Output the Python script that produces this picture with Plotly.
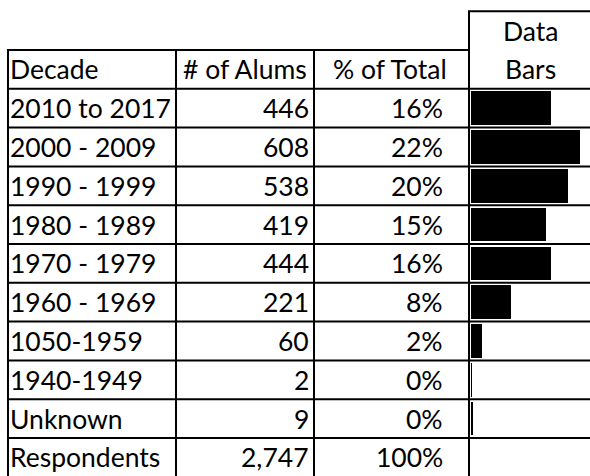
import plotly.graph_objects as go

# ---- data ----
decades = ["2010 to 2017", "2000 - 2009", "1990 - 1999", "1980 - 1989", "1970 - 1979",
           "1960 - 1969", "1050-1959", "1940-1949", "Unknown"]
alums = [446, 608, 538, 419, 444, 221, 60, 2, 9]
pct_total = [16, 22, 20, 15, 16, 8, 2, 0, 0]
total_label = "Respondents"
total_alums = 2747
total_pct = 100
headers = ["Decade", "# of Alums", "% of Total"]
bars_header = ["Data", "Bars"]

# ---- layout geometry (pixels / row units) ----
W, H = 590, 476
ROW_TOP = 50.0     # px of header row top
ROW_H = 38.8       # px per row
col_edges = [8, 176, 314, 469]
bars_x0 = 470.5
px_per_unit = 0.18
FONT = "Lato"
FS = 26.5

def b_of_px(p):
    return (p - ROW_TOP) / ROW_H

y_top = b_of_px(0)
y_bot = b_of_px(H)
n_rows = len(decades) + 1  # data rows + respondents
last_b = n_rows + 1

fig = go.Figure()

# data bars
row_centers = [i + 1.5 for i in range(len(decades))]
fig.add_trace(go.Bar(
    x=alums, y=row_centers, orientation="h", width=0.87,
    marker=dict(color="#000000", line=dict(width=0)),
    xaxis="x2", yaxis="y", hoverinfo="skip", showlegend=False,
))

shapes = []
lw = 2
lc = "#000000"
# horizontal lines
shapes.append(dict(type="line", xref="x", yref="y", x0=col_edges[0] - 1, x1=col_edges[3], y0=0, y1=0,
                   line=dict(color=lc, width=lw)))
shapes.append(dict(type="line", xref="x", yref="y", x0=col_edges[3] - 1, x1=W, y0=-1, y1=-1,
                   line=dict(color=lc, width=lw)))
for b in range(1, n_rows + 1):
    shapes.append(dict(type="line", xref="x", yref="y", x0=col_edges[0] - 1, x1=W, y0=b, y1=b,
                       line=dict(color=lc, width=lw)))
# vertical lines
for xe in col_edges[:3]:
    shapes.append(dict(type="line", xref="x", yref="y", x0=xe, x1=xe, y0=0, y1=last_b,
                       line=dict(color=lc, width=lw)))
shapes.append(dict(type="line", xref="x", yref="y", x0=col_edges[3], x1=col_edges[3], y0=-1, y1=last_b,
                   line=dict(color=lc, width=lw)))

ann = []
font = dict(family=FONT, size=FS, color="#000000")

def add_text(txt, x, b, anchor):
    ann.append(dict(text=txt, x=x, y=b, xref="x", yref="y", xanchor=anchor, yanchor="middle",
                    showarrow=False, font=font, yshift=0))

# headers
add_text(headers[0], 8, 0.5, "left")
add_text(headers[1], 245, 0.5, "center")
add_text(headers[2], 390, 0.5, "center")
add_text(bars_header[0], 530, -0.5, "center")
add_text(bars_header[1], 530, 0.5, "center")

# rows
for i, (d, a, p) in enumerate(zip(decades, alums, pct_total)):
    b = i + 1.5
    add_text(d, 8, b, "left")
    add_text(f"{a:,}", 311, b, "right")
    add_text(f"{p}%", 445, b, "right")
b = len(decades) + 1.5
add_text(total_label, 8, b, "left")
add_text(f"{total_alums:,}", 311, b, "right")
add_text(f"{total_pct}%", 445, b, "right")

fig.update_layout(
    width=W, height=H, margin=dict(l=0, r=0, t=0, b=0),
    paper_bgcolor="white", plot_bgcolor="white",
    shapes=shapes, annotations=ann, showlegend=False,
    xaxis=dict(domain=[0, 1], range=[0, W], visible=False, fixedrange=True),
    xaxis2=dict(domain=[bars_x0 / W, 1], range=[0, (W - bars_x0) / px_per_unit],
                anchor="y", visible=False, fixedrange=True),
    yaxis=dict(range=[y_bot, y_top], visible=False, fixedrange=True),
    bargap=0,
)

fig.write_html("out.html", config={"displayModeBar": False},
               post_script="document.body.style.margin='0';document.body.style.overflow='hidden';")
